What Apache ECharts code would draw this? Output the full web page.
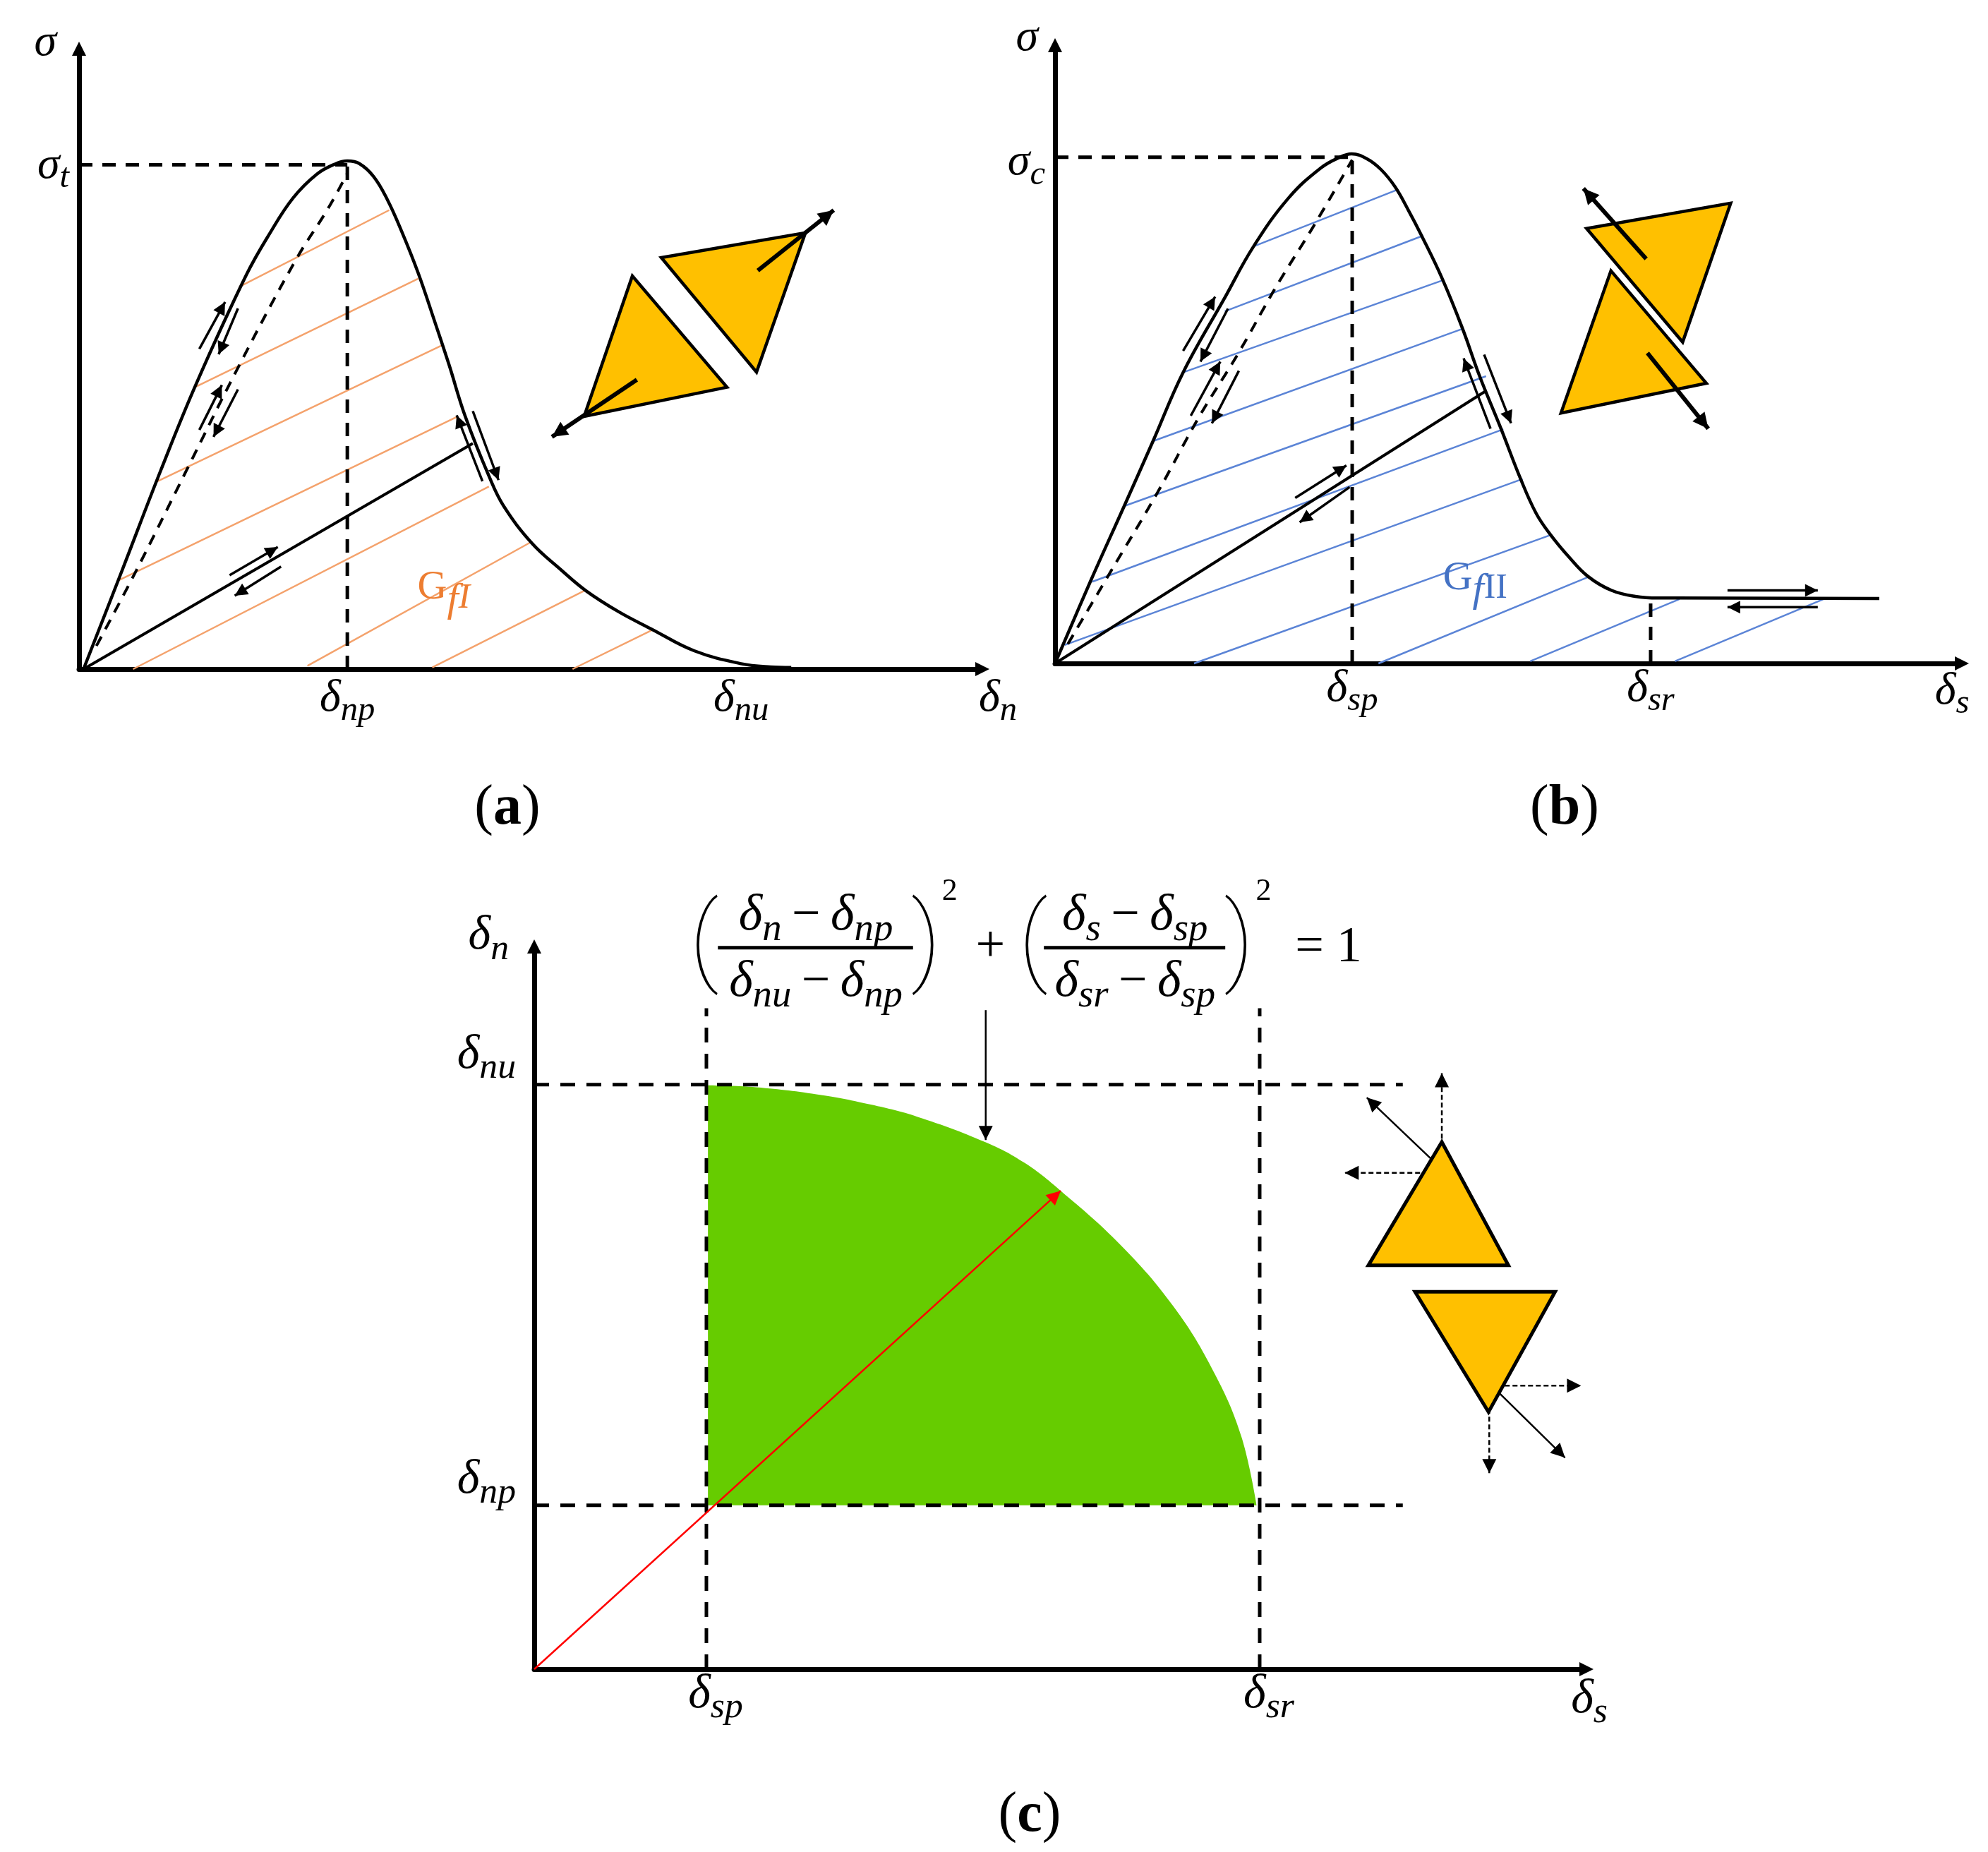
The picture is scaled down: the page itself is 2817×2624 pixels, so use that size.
<!DOCTYPE html>
<html>
<head>
<meta charset="UTF-8">
<title>Traction separation laws</title>
<script src="https://cdn.jsdelivr.net/npm/echarts@6/dist/echarts.min.js"></script>
<style>
html,body{margin:0;padding:0;background:#fff}
#main{width:2817px;height:2624px}
</style>
</head>
<body>
<div id="main"></div>
<script>
// all values are in arbitrary axis units, the figure has no numeric scale
// panel a: mode I
var curveA = [[7,0],[67,183],[127,368],[182,528],[260,730],[297,808],[333,873],[370,917],[399,936],[417,941],[436,936],[458,912],[479,870],[501,812],[527,734],[553,643],[575,564],[600,469],[638,355],[660,302],[704,233],[748,185],[788,145],[839,106],[890,74],[956,34],[1029,10],[1075,4],[1107,3]];
var unloadA = [[27,43],[87,178],[167,368],[247,558],[337,758],[387,853],[417,918]];
var hatchA = [[249,708,482,850],[180,522,527,723],[122,348,565,600],[59,163,589,468],[84,0,637,338],[355,6,702,235],[549,3,785,145],[767,0,892,73]];
var solidA = [[7,0,612,418]];
var dashA = [[417,0,417,940],[0,934,417,934]];
var arrowsA = [[187,593,227,680],[247,668,217,583],[187,443,222,526],[247,518,209,430],[627,348,587,470],[612,478,652,350],[234,174,309,226],[314,190,242,136]];
var thickA = [[1055,738,1173,850],[867,536,735,430]];
var trianglesA = [[[905,762],[1129,808],[1053,550]],[[860,728],[1007,522],[785,468]]];
var xTicksA = [417,1029];
var xTickNamesA = [['δ','np'],['δ','nu']];
var yTicksA = [932];
var yTickNamesA = [['σ','t']];

// panel b: mode II
var curveB = [[0,0],[55,151],[108,291],[153,411],[200,538],[265,676],[310,771],[365,861],[415,916],[445,936],[463,942],[487,933],[509,913],[531,881],[553,835],[571,794],[604,713],[636,620],[663,531],[696,435],[727,341],[751,278],[773,239],[803,196],[832,161],[869,135],[906,124],[942,121],[968,121],[1287,120]];
var unloadB = [[20,36],[85,166],[160,316],[225,456],[285,571],[345,696],[405,811],[464,931]];
var hatchB = [[310,771,535,876],[265,651,575,791],[200,538,607,709],[153,411,637,619],[108,291,673,531],[58,151,700,433],[15,34,730,341],[217,0,775,238],[505,0,835,161],[742,4,975,119],[968,4,1200,119]];
var solidB = [[0,0,673,504]];
var dashB = [[464,0,464,941],[0,936,464,936],[930,0,930,116]];
var arrowsB = [[200,578,250,678],[270,656,227,558],[212,458,258,558],[287,541,245,444],[680,434,638,564],[670,571,712,444],[375,306,455,366],[460,326,382,261],[1050,135,1191,135],[1191,104,1050,104]];
var thickB = [[923,748,825,878],[925,574,1020,434]];
var trianglesB = [[[830,804],[1055,851],[980,594]],[[868,726],[1017,518],[790,463]]];
var xTicksB = [464,930];
var xTickNamesB = [['δ','sp'],['δ','sr']];
var yTicksB = [926];
var yTickNamesB = [['σ','c']];

// panel c: mixed mode envelope
var envelopeC = [[227,908],[290,905],[375,893],[440,878],[501,859],[589,820],[640,788],[688,744],[766,660],[836,563],[889,460],[924,362],[944,255]];
var envelopeBase = 255;
var dashC = [[0,909,1135,909],[0,255,1135,255],[225,0,225,1028],[948,0,948,1028]];
var redArrowC = [[0,0,688,744]];
var arrowsC = [[590,1025,590,823],[1185,779,1088,889],[1253,439,1347,329]];
var dashArrowsC = [[1186,777,1186,927],[1188,772,1059,772],[1248,441,1368,441],[1248,441,1248,305]];
var trianglesC = [[[1186,820],[1273,628],[1090,628]],[[1151,587],[1334,587],[1247,400]]];
var fractionBarsC = [[240,1122,495,1122],[666,1122,903,1122]];
var xTicksC = [225,948];
var xTickNamesC = [['δ','sp'],['δ','sr']];
var yTicksC = [294,955];
var yTickNamesC = [['δ','np'],['δ','nu']];

var FONT = '"Liberation Serif"';
var BLACK = '#000000';
var ORANGE = '#F4A26C';
var ORANGE_TEXT = '#ED7D31';
var BLUE = '#5B84D6';
var BLUE_TEXT = '#4472C4';
var GOLD = '#FFC000';
var GREEN = '#66CC00';

function token(size, color, italic, padTop, padSide) {
    return {
        fontFamily: FONT, fontStyle: italic ? 'italic' : 'normal', fontSize: size,
        color: color, fill: color,
        padding: [padTop || 0, padSide || 0, 0, padSide || 0]
    };
}
function richSet(size) {
    return {
        d: token(size, BLACK, true),
        s: token(size * 0.76, BLACK, true, size * 0.55),
        o: token(size, BLACK, false, 0, size * 0.2),
        go: token(size, ORANGE_TEXT),
        gos: token(size, ORANGE_TEXT, true, size * 0.6),
        goi: token(size * 0.86, ORANGE_TEXT, true, size * 0.5),
        gb: token(size, BLUE_TEXT),
        gbs: token(size, BLUE_TEXT, true, size * 0.6),
        gbi: token(size * 0.86, BLUE_TEXT, false, size * 0.5)
    };
}
function sym(pair) {
    return '{d|' + pair[0] + '}' + (pair[1] ? '{s|' + pair[1] + '}' : '');
}

// [x, y, text, font size]
var formulaC = [
    [368,1171, sym(['δ','n']) + '{o|−}' + sym(['δ','np']), 72],
    [368,1068, sym(['δ','nu']) + '{o|−}' + sym(['δ','np']), 72],
    [785,1171, sym(['δ','s']) + '{o|−}' + sym(['δ','sp']), 72],
    [785,1068, sym(['δ','sr']) + '{o|−}' + sym(['δ','sp']), 72]
];
var plainC = [
    [543,1209,'2',44],[953,1209,'2',44],[596,1122,'+',74],[1038,1122,'= 1',72]
];
var parensC = [
    [222,1122,'(',140],[512,1122,')',140],[652,1122,'(',140],[921,1122,')',140]
];

function segments(grid, list, color, width, dash, head) {
    return {
        type: 'custom',
        coordinateSystem: 'cartesian2d',
        xAxisIndex: grid, yAxisIndex: grid,
        clip: false,
        silent: true,
        data: list,
        encode: {x: [0, 2], y: [1, 3]},
        renderItem: function (params, api) {
            var a = api.coord([api.value(0), api.value(1)]);
            var b = api.coord([api.value(2), api.value(3)]);
            var kids = [{
                type: 'line',
                shape: {x1: a[0], y1: a[1], x2: b[0], y2: b[1]},
                style: {stroke: color, lineWidth: width, lineDash: dash || null}
            }];
            if (head) {
                var ang = Math.atan2(b[1] - a[1], b[0] - a[0]);
                var w = head * 0.5;
                kids.push({
                    type: 'polygon',
                    shape: {points: [
                        [b[0], b[1]],
                        [b[0] - head * Math.cos(ang) + w * Math.sin(ang), b[1] - head * Math.sin(ang) - w * Math.cos(ang)],
                        [b[0] - head * Math.cos(ang) - w * Math.sin(ang), b[1] - head * Math.sin(ang) + w * Math.cos(ang)]
                    ]},
                    style: {fill: color}
                });
            }
            return {type: 'group', children: kids};
        }
    };
}

function triangles(grid, list, width) {
    return {
        type: 'custom',
        coordinateSystem: 'cartesian2d',
        xAxisIndex: grid, yAxisIndex: grid,
        clip: false,
        silent: true,
        data: list.map(function (t) { return [t[0][0], t[0][1], t[1][0], t[1][1], t[2][0], t[2][1]]; }),
        encode: {x: [0, 2, 4], y: [1, 3, 5]},
        renderItem: function (params, api) {
            var pts = [0, 2, 4].map(function (i) { return api.coord([api.value(i), api.value(i + 1)]); });
            return {type: 'polygon', shape: {points: pts}, style: {fill: GOLD, stroke: BLACK, lineWidth: width}};
        }
    };
}

function texts(grid, list, family, weight) {
    return {
        type: 'custom',
        coordinateSystem: 'cartesian2d',
        xAxisIndex: grid, yAxisIndex: grid,
        clip: false,
        silent: true,
        data: list.map(function (t) { return [t[0], t[1]]; }),
        encode: {x: 0, y: 1},
        renderItem: function (params, api) {
            var t = list[params.dataIndex];
            var p = api.coord([api.value(0), api.value(1)]);
            return {
                type: 'text', x: p[0], y: p[1],
                style: {text: t[2], rich: richSet(t[3]), fontFamily: family || FONT, fontWeight: weight || 'normal', fontSize: t[3], fill: BLACK, align: 'center', verticalAlign: 'middle'}
            };
        }
    };
}

function curve(grid, list, color, width, dash) {
    return {
        type: 'line', xAxisIndex: grid, yAxisIndex: grid, data: list,
        smooth: 0.4, symbol: 'none', silent: true, clip: false,
        lineStyle: {color: color, width: width, type: dash ? [15, 12] : 'solid'}
    };
}

var axisLineStyle = {
    show: true, onZero: false, symbol: ['none', 'triangle'], symbolSize: [20, 20],
    lineStyle: {color: BLACK, width: 7}
};

function xAxis(grid, max, ticks, names, axisName, size, pad, nameGap, margin, namePad) {
    return {
        type: 'value', gridIndex: grid, min: 0, max: max,
        name: sym(axisName),
        nameLocation: 'end', nameGap: nameGap,
        nameTextStyle: {rich: richSet(size), align: 'center', verticalAlign: 'top', padding: [namePad, 0, 0, 0]},
        axisLine: axisLineStyle,
        axisTick: {show: false},
        splitLine: {show: false},
        axisLabel: {
            customValues: ticks, margin: margin, rich: richSet(size), padding: [0, 0, 0, pad],
            formatter: function (v) { return sym(names[ticks.indexOf(v)]); }
        }
    };
}

function yAxis(grid, max, ticks, names, axisName, size, nameGap, namePad, margin) {
    return {
        type: 'value', gridIndex: grid, min: 0, max: max,
        name: sym(axisName),
        nameLocation: 'end', nameGap: nameGap,
        nameTextStyle: {rich: richSet(size), align: 'right', verticalAlign: 'bottom', padding: [0, namePad, 0, 0]},
        axisLine: axisLineStyle,
        axisTick: {show: false},
        splitLine: {show: false},
        axisLabel: {
            customValues: ticks, margin: margin, rich: richSet(size),
            formatter: function (v) { return sym(names[ticks.indexOf(v)]); }
        }
    };
}

function panelTitle(letter, cx, cy) {
    return {
        text: '{p|(}{b|' + letter + '}{p|)}',
        left: cx, top: cy, textAlign: 'center', textVerticalAlign: 'middle',
        textStyle: {fontWeight: 'normal', rich: {
            p: {fontFamily: FONT, fontSize: 80, fontWeight: 'normal', color: BLACK},
            b: {fontFamily: FONT, fontSize: 80, fontWeight: 'bold', color: BLACK}
        }}
    };
}

var chart = echarts.init(document.getElementById('main'));
var option = {
    animation: false,
    backgroundColor: '#ffffff',
    title: [panelTitle('a', 714, 1141), panelTitle('b', 2212, 1141), panelTitle('c', 1454, 2568)],
    grid: [
        {left: 112, top: 69, width: 1280, height: 879},
        {left: 1495, top: 64, width: 1285, height: 876},
        {left: 757, top: 1341, width: 1491, height: 1024}
    ],
    xAxis: [
        xAxis(0, 1404, xTicksA, xTickNamesA, ['δ', 'n'], 64, 0, 22, 0, 0),
        xAxis(1, 1416, xTicksB, xTickNamesB, ['δ', 's'], 64, 0, -14, -6, -2),
        xAxis(2, 1375, xTicksC, xTickNamesC, ['δ', 's'], 68, 26, 4, -9, -2)
    ],
    yAxis: [
        yAxis(0, 1149, yTicksA, yTickNamesA, ['σ', ''], 64, -24, 32, 14),
        yAxis(1, 1143, yTicksB, yTickNamesB, ['σ', ''], 64, -22, 24, 14),
        yAxis(2, 1124, yTicksC, yTickNamesC, ['δ', 'n'], 68, -30, 36, 26)
    ],
    series: [
        // panel a
        segments(0, hatchA, ORANGE, 2.5),
        curve(0, curveA, BLACK, 4.5),
        curve(0, unloadA, BLACK, 4, true),
        segments(0, dashA, BLACK, 5, [19, 14]),
        segments(0, solidA, BLACK, 4),
        segments(0, arrowsA, BLACK, 3.5, null, 18),
        triangles(0, trianglesA, 4.5),
        segments(0, thickA, BLACK, 6, null, 22),
        texts(0, [[567,150,'{go|G}{gos|f}{goi|I}',58]]),
        // panel b
        segments(1, hatchB, BLUE, 2.5),
        curve(1, curveB, BLACK, 4.5),
        curve(1, unloadB, BLACK, 4, true),
        segments(1, dashB, BLACK, 5, [19, 14]),
        segments(1, solidB, BLACK, 4),
        segments(1, arrowsB, BLACK, 3.5, null, 18),
        triangles(1, trianglesB, 4.5),
        segments(1, thickB, BLACK, 6, null, 22),
        texts(1, [[656,157,'{gb|G}{gbs|f}{gbi|II}',58]]),
        // panel c
        {
            type: 'line', xAxisIndex: 2, yAxisIndex: 2, data: envelopeC,
            smooth: 0.4, symbol: 'none', silent: true, z: 1,
            lineStyle: {width: 0},
            areaStyle: {color: GREEN, opacity: 1, origin: envelopeBase}
        },
        segments(2, dashC, BLACK, 5, [21, 16]),
        segments(2, redArrowC, '#FF0000', 2.5, null, 20),
        segments(2, arrowsC, BLACK, 2.5, null, 20),
        segments(2, dashArrowsC, BLACK, 2.5, [7, 4], 20),
        triangles(2, trianglesC, 5),
        segments(2, fractionBarsC, BLACK, 5),
        texts(2, formulaC),
        texts(2, plainC),
        texts(2, parensC, 'Roboto', 100)
    ]
};
chart.setOption(option);
</script>
</body>
</html>
